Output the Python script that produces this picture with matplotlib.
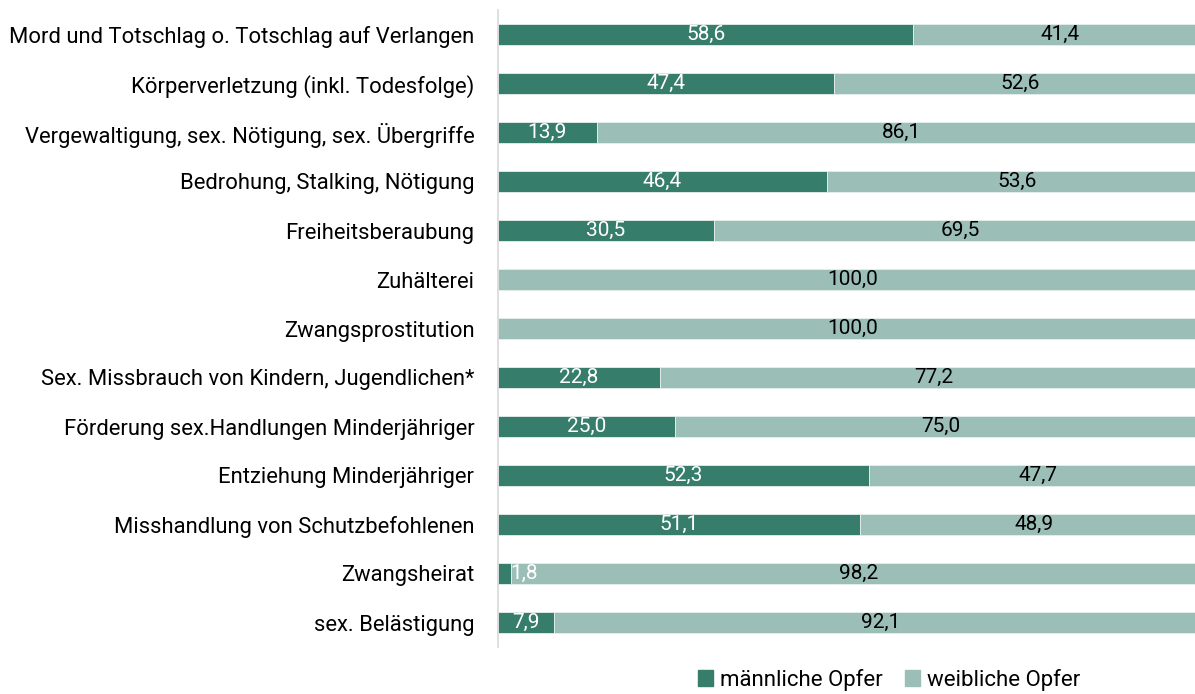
import matplotlib
matplotlib.use('Agg')
import matplotlib.pyplot as plt
from matplotlib.patches import Patch

# Anteile männlicher / weiblicher Opfer in Prozent
categories = [
    "Mord und Totschlag o. Totschlag auf Verlangen",
    "Körperverletzung (inkl. Todesfolge)",
    "Vergewaltigung, sex. Nötigung, sex. Übergriffe",
    "Bedrohung, Stalking, Nötigung",
    "Freiheitsberaubung",
    "Zuhälterei",
    "Zwangsprostitution",
    "Sex. Missbrauch von Kindern, Jugendlichen*",
    "Förderung sex.Handlungen Minderjähriger",
    "Entziehung Minderjähriger",
    "Misshandlung von Schutzbefohlenen",
    "Zwangsheirat",
    "sex. Belästigung",
]
male = [58.6, 47.4, 13.9, 46.4, 30.5, 0.0, 0.0, 22.8, 25.0, 52.3, 51.1, 1.8, 7.9]
female = [41.4, 52.6, 86.1, 53.6, 69.5, 100.0, 100.0, 77.2, 75.0, 47.7, 48.9, 98.2, 92.1]
series_names = ["männliche Opfer", "weibliche Opfer"]

DARK = '#367E6B'
LIGHT = '#9BBFB6'

plt.rcParams['font.family'] = ['Roboto', 'DejaVu Sans']

fig = plt.figure(figsize=(11.95, 6.94), dpi=100)
# axis begins at x~498px, 100 % lies past the right border (bars are cut off)
ax = fig.add_axes([498 / 1195, 1 - 647 / 694, 709 / 1195, 637 / 694])

y = list(range(len(categories)))
h = 0.41
ax.barh(y, male, height=h, color=DARK, edgecolor='#E6EFEC', linewidth=0.6)
ax.barh(y, female, left=male, height=h, color=LIGHT, edgecolor='#E6EFEC', linewidth=0.6)

fmt = lambda v: f"{v:.1f}".replace('.', ',')
for i in y:
    m, f = male[i], female[i]
    if m > 0:
        if m < 5:
            ax.text(m, i, fmt(m), ha='left', va='center', color='white', fontsize=15)
        else:
            ax.text(m / 2, i, fmt(m), ha='center', va='center', color='white', fontsize=15)
    ax.text(m + f / 2, i, fmt(f), ha='center', va='center', color='black', fontsize=15)

ax.set_xlim(0, 100)
ax.set_ylim(len(categories) - 0.5, -0.5)
ax.set_yticks(y)
ax.set_yticklabels(categories, fontsize=15.8)
ax.tick_params(axis='y', length=0, pad=17)
ax.set_xticks([])
for s in ['top', 'right', 'bottom']:
    ax.spines[s].set_visible(False)
ax.spines['left'].set_color('#D9D9D9')
ax.spines['left'].set_linewidth(1.2)

handles = [Patch(color=DARK), Patch(color=LIGHT)]
fig.legend(handles, series_names, loc='center', bbox_to_anchor=(889 / 1195, 1 - 680 / 694),
           ncol=2, frameon=False, fontsize=16, handlelength=0.7, handleheight=0.7,
           handletextpad=0.3, columnspacing=1.0, borderpad=0.1)

fig.savefig('out.png', dpi=100)
